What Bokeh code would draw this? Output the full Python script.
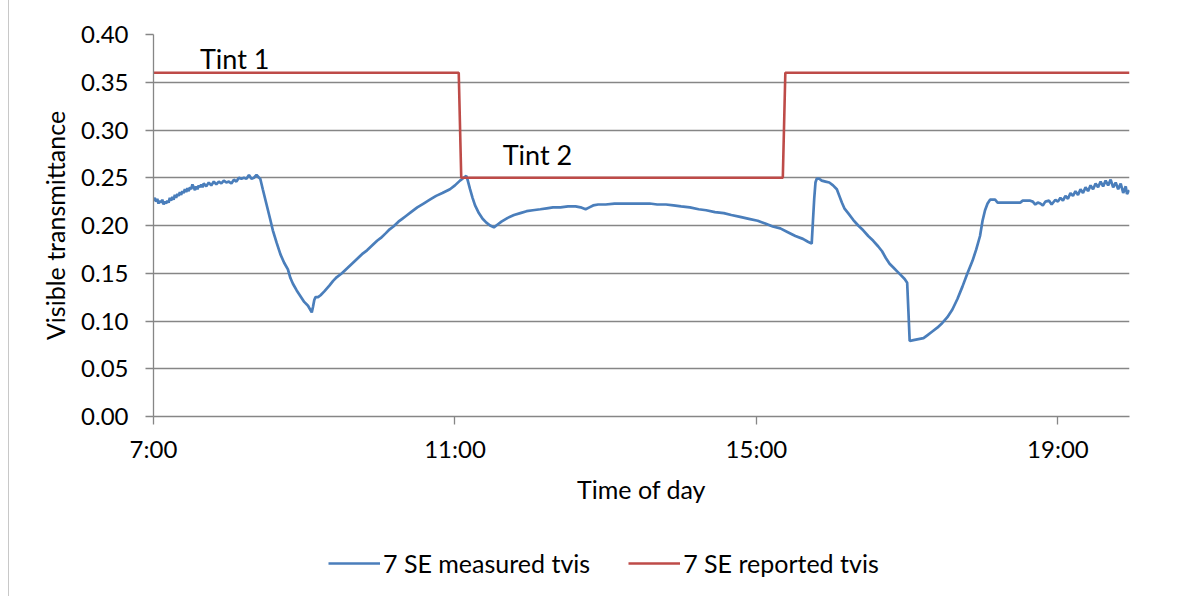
from bokeh.plotting import figure
from bokeh.layouts import column
from bokeh.models import FixedTicker, NumeralTickFormatter, Legend, LegendItem, Range1d
from bokeh.core.properties import value
from bokeh.embed import file_html
from bokeh.resources import INLINE

# ---------------- data ----------------
measured_time = [
    "7:00", "7:01", "7:02", "7:03", "7:04", "7:05", "7:06", "7:07", "7:08", "7:09",
    "7:10", "7:11", "7:12", "7:13", "7:14", "7:15", "7:16", "7:17", "7:18", "7:19",
    "7:20", "7:21", "7:22", "7:23", "7:24", "7:25", "7:26", "7:27", "7:28", "7:29",
    "7:30", "7:31", "7:32", "7:33", "7:34", "7:35", "7:36", "7:37", "7:38", "7:39",
    "7:40", "7:42", "7:44", "7:46", "7:48", "7:50", "7:52", "7:54", "7:56", "7:58",
    "8:00", "8:02", "8:04", "8:06", "8:08", "8:10", "8:12", "8:14", "8:16", "8:18",
    "8:20", "8:22", "8:24", "8:25", "8:27", "8:30", "8:33", "8:35", "8:38", "8:41",
    "8:44", "8:47", "8:49", "8:51", "8:54", "8:57", "9:00", "9:03", "9:06", "9:07",
    "9:08", "9:09", "9:11", "9:13", "9:16", "9:20", "9:23", "9:26", "9:30", "9:34",
    "9:38", "9:42", "9:46", "9:50", "9:54", "9:58", "10:01", "10:05", "10:08", "10:11",
    "10:15", "10:18", "10:21", "10:25", "10:30", "10:35", "10:40", "10:45", "10:50", "10:56",
    "11:00", "11:04", "11:07", "11:09", "11:10", "11:12", "11:14", "11:16", "11:19", "11:22",
    "11:25", "11:28", "11:31", "11:34", "11:37", "11:42", "11:47", "11:52", "11:57", "12:02",
    "12:08", "12:13", "12:18", "12:24", "12:30", "12:36", "12:40", "12:44", "12:47", "12:50",
    "12:54", "13:00", "13:07", "13:14", "13:21", "13:28", "13:35", "13:41", "13:48", "13:54",
    "14:00", "14:07", "14:14", "14:20", "14:27", "14:34", "14:40", "14:47", "14:54", "15:01",
    "15:07", "15:13", "15:19", "15:25", "15:31", "15:37", "15:41", "15:44", "15:45", "15:46",
    "15:47", "15:48", "15:50", "15:52", "15:55", "15:58", "16:01", "16:04", "16:06", "16:08",
    "16:10", "16:13", "16:17", "16:21", "16:25", "16:29", "16:33", "16:37", "16:40", "16:43",
    "16:46", "16:49", "16:52", "16:55", "16:58", "17:00", "17:01", "17:02", "17:05", "17:09",
    "17:13", "17:16", "17:20", "17:24", "17:28", "17:32", "17:36", "17:40", "17:44", "17:48",
    "17:52", "17:55", "17:58", "18:00", "18:02", "18:04", "18:06", "18:10", "18:12", "18:18",
    "18:24", "18:30", "18:32", "18:38", "18:40", "18:42", "18:44", "18:46", "18:48", "18:50",
    "18:53", "18:55", "18:58", "19:00", "19:02", "19:04", "19:06", "19:08", "19:10", "19:12",
    "19:14", "19:16", "19:18", "19:20", "19:22", "19:24", "19:26", "19:28", "19:30", "19:32",
    "19:34", "19:36", "19:38", "19:40", "19:42", "19:44", "19:46", "19:48", "19:50", "19:52",
    "19:54", "19:55", "19:57",
]
measured_tvis = [
    0.226, 0.229, 0.225, 0.228, 0.223, 0.226, 0.224, 0.227, 0.222, 0.225,
    0.223, 0.226, 0.224, 0.229, 0.226, 0.230, 0.227, 0.232, 0.229, 0.233,
    0.231, 0.235, 0.232, 0.236, 0.234, 0.238, 0.235, 0.239, 0.236, 0.240,
    0.238, 0.243, 0.240, 0.237, 0.241, 0.238, 0.242, 0.240, 0.243, 0.240,
    0.244, 0.241, 0.245, 0.242, 0.246, 0.243, 0.246, 0.244, 0.247, 0.245,
    0.246, 0.244, 0.248, 0.246, 0.250, 0.249, 0.250, 0.249, 0.253, 0.249,
    0.250, 0.253, 0.250, 0.249, 0.238, 0.222, 0.206, 0.195, 0.182, 0.170,
    0.161, 0.154, 0.145, 0.139, 0.132, 0.126, 0.120, 0.116, 0.109, 0.115,
    0.122, 0.125, 0.125, 0.127, 0.131, 0.137, 0.142, 0.146, 0.150, 0.155,
    0.160, 0.165, 0.170, 0.174, 0.179, 0.184, 0.187, 0.192, 0.196, 0.199,
    0.204, 0.207, 0.210, 0.214, 0.219, 0.223, 0.227, 0.231, 0.234, 0.238,
    0.242, 0.247, 0.250, 0.252, 0.248, 0.238, 0.229, 0.221, 0.213, 0.207,
    0.203, 0.200, 0.198, 0.201, 0.204, 0.208, 0.211, 0.213, 0.215, 0.216,
    0.217, 0.218, 0.219, 0.219, 0.220, 0.220, 0.219, 0.217, 0.219, 0.221,
    0.222, 0.222, 0.223, 0.223, 0.223, 0.223, 0.223, 0.222, 0.222, 0.221,
    0.220, 0.219, 0.217, 0.216, 0.214, 0.213, 0.211, 0.209, 0.207, 0.205,
    0.202, 0.199, 0.197, 0.193, 0.189, 0.186, 0.183, 0.181, 0.205, 0.228,
    0.245, 0.249, 0.249, 0.247, 0.246, 0.245, 0.242, 0.238, 0.231, 0.224,
    0.218, 0.213, 0.206, 0.200, 0.195, 0.189, 0.184, 0.178, 0.173, 0.166,
    0.160, 0.156, 0.152, 0.148, 0.144, 0.140, 0.110, 0.079, 0.080, 0.081,
    0.082, 0.085, 0.089, 0.093, 0.098, 0.104, 0.112, 0.123, 0.136, 0.150,
    0.163, 0.175, 0.189, 0.205, 0.216, 0.223, 0.227, 0.227, 0.224, 0.224,
    0.224, 0.224, 0.226, 0.226, 0.225, 0.222, 0.224, 0.223, 0.221, 0.225,
    0.226, 0.222, 0.227, 0.225, 0.229, 0.226, 0.231, 0.228, 0.234, 0.231,
    0.236, 0.232, 0.238, 0.234, 0.240, 0.236, 0.242, 0.238, 0.244, 0.240,
    0.246, 0.241, 0.247, 0.242, 0.248, 0.240, 0.245, 0.238, 0.244, 0.234,
    0.241, 0.233, 0.237,
]
reported_time = ["7:00", "11:03", "11:05", "15:21", "15:23", "19:57"]
reported_tvis = [0.36, 0.36, 0.25, 0.25, 0.36, 0.36]

x_ticks = [7, 11, 15, 19]
x_tick_labels = ["7:00", "11:00", "15:00", "19:00"]
y_ticks = [0.00, 0.05, 0.10, 0.15, 0.20, 0.25, 0.30, 0.35, 0.40]

tint_labels = ["Tint 1", "Tint 2"]
tint_label_time = ["7:37", "11:38"]
tint_label_tvis = [0.375, 0.274]

series_names = ["7 SE measured tvis", "7 SE reported tvis"]


def to_hours(s):
    h, m = s.split(":")
    return int(h) + int(m) / 60.0


meas_x = [to_hours(t) for t in measured_time]
rep_x = [to_hours(t) for t in reported_time]

FONT = "Lato"
BLUE = "#4A7EBB"
RED = "#BE4B48"
GRID = "#868686"
FRAME_STYLE = {"margin-left": "8px", "border-left": "1px solid #c8c8c8"}

# ---------------- main chart ----------------
p = figure(
    width=1168, height=530,
    output_backend="svg", toolbar_location=None,
    x_range=Range1d(7, 19.95), y_range=Range1d(0, 0.40),
    min_border_left=144, min_border_right=48, min_border_top=34, min_border_bottom=114,
)
p.styles = FRAME_STYLE
p.outline_line_color = None
p.background_fill_color = "white"
p.border_fill_color = "white"

p.line(meas_x, measured_tvis, line_color=BLUE, line_width=2.7)
p.line(rep_x, reported_tvis, line_color=RED, line_width=2.6)

p.text(x=[to_hours(t) for t in tint_label_time], y=tint_label_tvis, text=tint_labels,
       text_font=value(FONT), text_font_size="27px", text_color="black",
       text_baseline="middle", text_align="left")

xa = p.xaxis[0]
xa.ticker = FixedTicker(ticks=x_ticks)
xa.major_label_overrides = dict(zip(x_ticks, x_tick_labels))
xa.minor_tick_line_color = None
xa.major_tick_in = 0
xa.major_tick_out = 8
xa.axis_line_color = GRID
xa.major_tick_line_color = GRID
xa.axis_line_width = 1.3
xa.major_tick_line_width = 1.3
xa.major_label_text_font = FONT
xa.major_label_text_font_size = "24px"
xa.major_label_text_color = "black"
xa.major_label_standoff = 9
xa.axis_label = "Time of day"
xa.axis_label_text_font = FONT
xa.axis_label_text_font_size = "25px"
xa.axis_label_text_font_style = "normal"
xa.axis_label_text_color = "black"
xa.axis_label_standoff = 8

ya = p.yaxis[0]
ya.ticker = FixedTicker(ticks=y_ticks)
ya.formatter = NumeralTickFormatter(format="0.00")
ya.minor_tick_line_color = None
ya.major_tick_in = 0
ya.major_tick_out = 8
ya.axis_line_color = GRID
ya.major_tick_line_color = GRID
ya.axis_line_width = 1.3
ya.major_tick_line_width = 1.3
ya.major_label_text_font = FONT
ya.major_label_text_font_size = "24px"
ya.major_label_text_color = "black"
ya.major_label_standoff = 17
ya.axis_label = "Visible transmittance"
ya.axis_label_text_font = FONT
ya.axis_label_text_font_size = "25px"
ya.axis_label_text_font_style = "normal"
ya.axis_label_text_color = "black"
ya.axis_label_standoff = 8

p.xgrid.visible = False
p.ygrid.ticker = FixedTicker(ticks=y_ticks)
p.ygrid.grid_line_color = GRID
p.ygrid.grid_line_width = 1.3

# ---------------- legend strip below the chart ----------------
# The same series are attached here only as legend keys; the strip's ranges keep
# their lines out of view, so only the legend entries show.
lg = figure(
    width=1168, height=66,
    output_backend="svg", toolbar_location=None,
    x_range=Range1d(0, 1), y_range=Range1d(0, 1),
    min_border_left=0, min_border_right=0, min_border_top=0, min_border_bottom=0,
)
lg.styles = FRAME_STYLE
lg.axis.visible = False
lg.grid.visible = False
lg.outline_line_color = None
lg.background_fill_color = "white"
lg.border_fill_color = "white"
key_meas = lg.line(meas_x, measured_tvis, line_color=BLUE, line_width=2.7)
key_rep = lg.line(rep_x, reported_tvis, line_color=RED, line_width=2.6)

legend = Legend(
    items=[LegendItem(label=series_names[0], renderers=[key_meas]),
           LegendItem(label=series_names[1], renderers=[key_rep])],
    orientation="horizontal", location=(175, 18),
    padding=0, margin=0, spacing=38, label_standoff=3,
    glyph_width=52, glyph_height=24,
    label_text_font=FONT, label_text_font_size="25px", label_text_color="black",
    border_line_color=None, background_fill_alpha=0,
)
lg.add_layout(legend, "center")

layout = column(p, lg, spacing=0)
open("out.html", "w").write(file_html(layout, INLINE))
